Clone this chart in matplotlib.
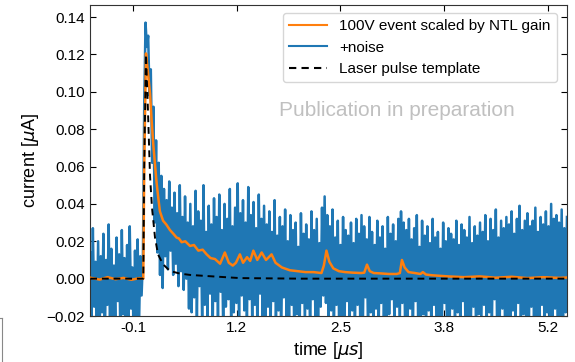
import numpy as np
import matplotlib
matplotlib.use("Agg")
import matplotlib.pyplot as plt
from matplotlib.lines import Line2D
from matplotlib.ticker import FuncFormatter

plt.rcParams["font.family"] = ["Liberation Sans", "DejaVu Sans"]

# ── Data (current in units of 1e-3 uA, time in us) ──────────────────────────

# +noise trace, regularly sampled from T_START to T_END
T_START, T_END = -0.62, 5.40
noise_vals = [
    14, -22, 27, -15, 9, -31, 20, -35, 12, -18, 24, -38, 10, -14, 29, -26, 16, -33, 7, -21,
    22, -12, 13, -36, 26, -19, 11, -30, 18, -25, 28, -16, 6, -34, 15, -23, 21, -28, 12, -9,
    10, 92, 137, 124, 130, 98, 112, 62, 92, 30, 74, 14, 62, 2, 55, -5,
    48, 12, 42, 5, 52, 15, 38, 2, 46, 8, 35, -4, 50, 4, 33, -6, 44, 0, 30, -16,
    40, -18, 28, -10, 47, -22, 36, -4, 31, -24, 50, -14, 25, -20, 39, -8, 29, -27, 43, -12,
    33, -21, 45, -7, 26, -30, 40, -15, 32, -11, 48, -24, 28, -18, 38, -13, 51, -28, 35, -9,
    42, -17, 30, -26, 49, -11, 34, -22, 41, -14, 27, -31, 45, -8, 32, -20, 39, -25, 29, -15,
    36, -23, 25, -12, 42, -29, 23, -17, 33, -32, 28, -10, 37, -21, 20, -27, 34, -14, 26, -35,
    30, -19, 17, -30, 35, -13, 24, -25, 29, -16, 21, -33, 36, -11, 26, -22, 32, -28, 19, -15,
    38, -9, 44, -13, 34, -23, 28, -17, 37, -30, 22, -14, 31, -26, 18, -20, 33, -32, 26, -12,
    23, -24, 30, -17, 19, -29, 32, -14, 24, -21, 34, -27, 28, -10, 21, -31, 33, -18, 25, -25,
    18, -16, 31, -28, 22, -13, 28, -23, 16, -32, 33, -19, 24, -11, 29, -26, 20, -15, 32, -29,
    36, -13, 30, -21, 26, -25, 32, -16, 21, -30, 27, -12, 34, -23, 17, -27, 31, -19, 23, -31,
    28, -17, 19, -25, 32, -14, 22, -30, 25, -20, 16, -27, 30, -13, 20, -33, 27, -22, 24, -16,
    21, -29, 31, -18, 18, -24, 29, -12, 26, -31, 22, -21, 33, -26, 19, -15, 28, -32, 23, -19,
    30, -23, 25, -14, 34, -28, 20, -18, 32, -25, 26, -11, 37, -30, 22, -20, 31, -16, 27, -27,
    33, -22, 29, -31, 36, -17, 24, -26, 32, -13, 39, -29, 26, -19, 31, -24, 35, -33, 28, -15,
    31, -25, 38, -20, 25, -28, 33, -14, 29, -32, 36, -18, 28, -23, 40, -27, 32, -16, 34, -30,
    30, -21, 37, -26, 27, -18, 33,
]

# 100V event scaled by NTL gain
event_t = [-0.62, -0.5, -0.4, -0.3, -0.2, -0.1, 0.0, 0.05, 0.062, 0.084, 0.11, 0.135,
           0.155, 0.176, 0.2, 0.219, 0.24, 0.26, 0.30, 0.34, 0.387, 0.43, 0.47, 0.5,
           0.535, 0.58, 0.64, 0.69, 0.745, 0.80, 0.85, 0.90, 0.955, 1.02, 1.08, 1.13,
           1.18, 1.22, 1.27, 1.31, 1.36, 1.40, 1.44, 1.49, 1.545, 1.60, 1.67, 1.72,
           1.8, 1.9, 2.0, 2.1, 2.2, 2.3, 2.33, 2.363, 2.40, 2.45, 2.52, 2.6, 2.7, 2.8,
           2.84, 2.875, 2.91, 2.96, 3.05, 3.15, 3.25, 3.29, 3.316, 3.35, 3.40, 3.48,
           3.55, 3.58, 3.62, 3.7, 3.9, 4.1, 4.3, 4.5, 4.7, 4.9, 5.1, 5.3, 5.40]
event_v = [0.5, -0.5, 0.8, -0.3, 0.4, -0.6, 0.3, 0.0, 60, 120.5, 110, 99,
           85, 72, 60, 51, 43, 36, 31, 29, 26, 24, 22, 21.5,
           19.5, 20, 17.5, 18, 15, 15.5, 13, 11, 10.5, 8, 14, 8.5,
           7, 8.5, 13, 8.5, 11.5, 9.5, 15, 10, 14, 10, 13, 8.5,
           6, 4.5, 4, 3.5, 3.5, 3, 7, 15, 9, 5.5, 4, 3.5, 3.2, 3,
           3.2, 7.5, 4, 3, 2.8, 2.5, 2.5, 3, 10, 6, 3.5, 3,
           2.5, 3.5, 2.2, 1.8, 1.2, 0.8, 1.2, 0.5, 1.0, 0.3, 0.8, 0.4, 0.6]

# Laser pulse template
laser_t = [-0.62, 0.05, 0.062, 0.084, 0.109, 0.135, 0.160, 0.198, 0.236, 0.299,
           0.387, 0.513, 0.640, 0.854, 1.271, 2.03, 3.0, 5.40]
laser_v = [0, 0, 60, 120, 90, 55, 38, 22, 13, 7.7,
           4.1, 2.7, 2.0, 1.4, 0.3, 0.0, 0.0, 0.0]

tick_pos = [-0.08, 1.23, 2.54, 3.85, 5.16]
tick_labels = ["-0.1", "1.2", "2.5", "3.8", "5.2"]

# ── Plot ──────────────────────────────────────────────────────────────────────

noise_t = np.linspace(T_START, T_END, len(noise_vals))
noise_i = np.array(noise_vals) * 1e-3

fig = plt.figure(figsize=(5.75, 3.62), dpi=100)
ax = fig.add_axes([0.1565, 0.127, 0.8295, 0.859])

ax.plot(noise_t, noise_i, color="#1f77b4", lw=1.8, label="+noise", zorder=2)
ax.plot(event_t, np.array(event_v) * 1e-3, color="#ff7f0e", lw=1.8,
        label="100V event scaled by NTL gain", zorder=3)
ax.plot(laser_t, np.array(laser_v) * 1e-3, color="black", lw=1.4, ls="--",
        dashes=(3.5, 2.5), label="Laser pulse template", zorder=4)

ax.set_xlim(-0.623, 5.40)
ax.set_ylim(-0.02, 0.1464)
ax.set_xticks(tick_pos)
ax.set_xticklabels(tick_labels)
ax.set_yticks(np.arange(-0.02, 0.141, 0.02))
ax.yaxis.set_major_formatter(FuncFormatter(lambda v, _: f"{v:.2f}".replace("-", "\u2212")))
ax.tick_params(direction="in", top=True, right=True, labelsize=11, length=4)
for s in ax.spines.values():
    s.set_color("#333333")

ax.set_xlabel(r"time [$\mu s$]", fontsize=13)
ax.set_ylabel(r"current [$\mu$A]", fontsize=13)

handles, labels = ax.get_legend_handles_labels()
order = [1, 0, 2]
leg = ax.legend([handles[i] for i in order], [labels[i] for i in order],
                loc="upper right", fontsize=11, handlelength=2.5,
                bbox_to_anchor=(0.985, 0.985), borderaxespad=0.2)
for line in leg.get_lines():
    line.set_linewidth(1.5)

ax.text(0.644, 0.662, "Publication in preparation", transform=ax.transAxes,
        ha="center", va="center", fontsize=15, color="#c0c0c0")

# stray frame corner at the bottom left of the original picture
fig.add_artist(Line2D([0.004, 0.004], [0.0, 0.122], color="#888888", lw=0.8))
fig.add_artist(Line2D([0.0, 0.004], [0.122, 0.122], color="#888888", lw=0.8))

fig.savefig("out.png", dpi=100)
